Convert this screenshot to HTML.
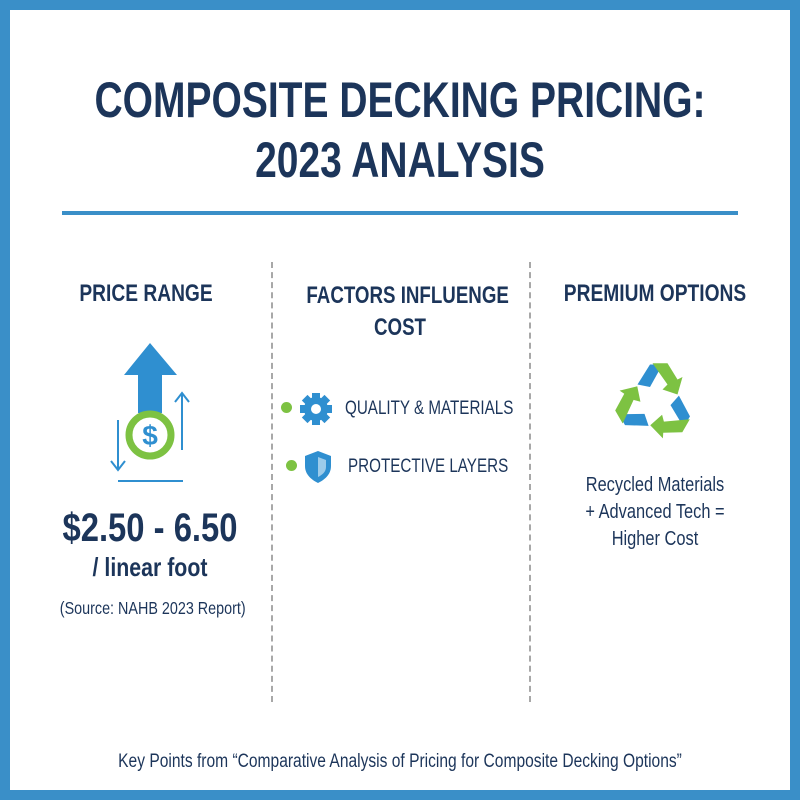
<!DOCTYPE html>
<html><head><meta charset="utf-8"><style>
body{margin:0;width:800px;height:800px;overflow:hidden;background:#fff;font-family:"Liberation Sans",sans-serif;}
.frame{position:absolute;left:0;top:0;width:800px;height:800px;box-sizing:border-box;border:10px solid #3a8fc8;}
.t{position:absolute;color:#1c355a;text-align:center;white-space:nowrap;transform:scaleX(.8);transform-origin:center;}
.l{transform-origin:left;text-align:left;}
.h{font-weight:bold;font-size:24px;}
.vd{position:absolute;top:262px;height:440px;border-left:2px dashed #a8a8a8;}
.dot{position:absolute;width:11px;height:11px;border-radius:50%;background:#7dc242;}
</style></head><body>
<div class="frame"></div>
<div class="t" style="left:0;width:800px;top:70px;font-size:50px;font-weight:bold;line-height:60px;transform:scaleX(.78);">COMPOSITE DECKING PRICING:<br>2023 ANALYSIS</div>
<div style="position:absolute;left:62px;top:211px;width:676px;height:4px;background:#3a8fc8;"></div>
<div class="vd" style="left:271px"></div>
<div class="vd" style="left:529px"></div>

<div class="t h" style="left:40px;width:212px;top:280px;">PRICE RANGE</div>
<svg style="position:absolute;left:100px;top:335px" width="100" height="150" viewBox="0 0 100 150">
<polygon points="50,8 77,40 62,40 62,78 38,78 38,40 24,40" fill="#2f8fd0"/>
<circle cx="50" cy="100" r="21" fill="#fff" stroke="#7dc242" stroke-width="7"/>
<text x="50" y="110" text-anchor="middle" font-size="28" font-weight="bold" fill="#2f8fd0" font-family="Liberation Sans">$</text>
<line x1="18" y1="85" x2="18" y2="135" stroke="#2f8fd0" stroke-width="2"/><polyline points="11,126 18,135 25,126" fill="none" stroke="#2f8fd0" stroke-width="2"/>
<line x1="82" y1="115" x2="82" y2="58" stroke="#2f8fd0" stroke-width="2"/><polyline points="75,67 82,58 89,67" fill="none" stroke="#2f8fd0" stroke-width="2"/>
<line x1="18" y1="146" x2="83" y2="146" stroke="#2f8fd0" stroke-width="2"/>
</svg>
<div class="t" style="left:40px;width:220px;top:506px;font-size:40px;font-weight:bold;transform:scaleX(.82);">$2.50 - 6.50</div>
<div class="t" style="left:40px;width:220px;top:552px;font-size:26px;font-weight:bold;transform:scaleX(.82);">/ linear foot</div>
<div class="t" style="left:40px;width:220px;top:598px;font-size:17.5px;transform:scaleX(.82);">(Source: NAHB 2023 Report)</div>

<div class="t h" style="left:280px;width:240px;top:280px;line-height:32px;transform:scaleX(.78);">FACTORS INFLUENGE<br>COST</div>
<div class="dot" style="left:281px;top:402px"></div>
<svg style="position:absolute;left:299px;top:392px" width="34" height="34" viewBox="0 0 34 34">
<g fill="#2f8fd0" transform="translate(17,17)"><rect x="-4" y="-16" width="8" height="32"/><rect x="-4" y="-16" width="8" height="32" transform="rotate(45)"/><rect x="-4" y="-16" width="8" height="32" transform="rotate(90)"/><rect x="-4" y="-16" width="8" height="32" transform="rotate(135)"/><circle r="12"/></g>
<circle cx="17" cy="17" r="5" fill="#fff"/></svg>
<div class="t l" style="left:345px;top:398px;font-size:19px;">QUALITY &amp; MATERIALS</div>
<div class="dot" style="left:286px;top:460px"></div>
<svg style="position:absolute;left:302px;top:449px" width="32" height="36" viewBox="0 0 32 36">
<path d="M16 2 L29 7 L29 17 C29 26 22 31 16 34 C10 31 3 26 3 17 L3 7 Z" fill="#2f8fd0"/>
<path d="M16 8 L24 11 L24 18 C24 23 20 26 16 28 Z" fill="#9ccbea"/></svg>
<div class="t l" style="left:348px;top:456px;font-size:19px;">PROTECTIVE LAYERS</div>

<div class="t h" style="left:540px;width:230px;top:280px;">PREMIUM OPTIONS</div>
<svg style="position:absolute;left:615px;top:360px" width="80" height="80" viewBox="0 0 80 80">
<g transform="translate(40,42) scale(1.25)">
<g><path d="M-14,-14 L-4,-30 L6,-30 L-4,-12 Z" fill="#2f8fd0"/><path d="M-2,-31 L10,-31 L18,-18 L22,-20 L18,-6 L6,-10 L10,-14 Z" fill="#7dc242"/></g>
<g transform="rotate(120)"><path d="M-14,-14 L-4,-30 L6,-30 L-4,-12 Z" fill="#2f8fd0"/><path d="M-2,-31 L10,-31 L18,-18 L22,-20 L18,-6 L6,-10 L10,-14 Z" fill="#7dc242"/></g>
<g transform="rotate(240)"><path d="M-14,-14 L-4,-30 L6,-30 L-4,-12 Z" fill="#2f8fd0"/><path d="M-2,-31 L10,-31 L18,-18 L22,-20 L18,-6 L6,-10 L10,-14 Z" fill="#7dc242"/></g>
</g></svg>
<div class="t" style="left:540px;width:230px;top:472px;font-size:20px;line-height:27px;transform:scaleX(.82);">Recycled Materials<br>+ Advanced Tech =<br>Higher Cost</div>

<div class="t" style="left:0;width:800px;top:751px;font-size:19px;transform:scaleX(.82);">Key Points from “Comparative Analysis of Pricing for Composite Decking Options”</div>
</body></html>
